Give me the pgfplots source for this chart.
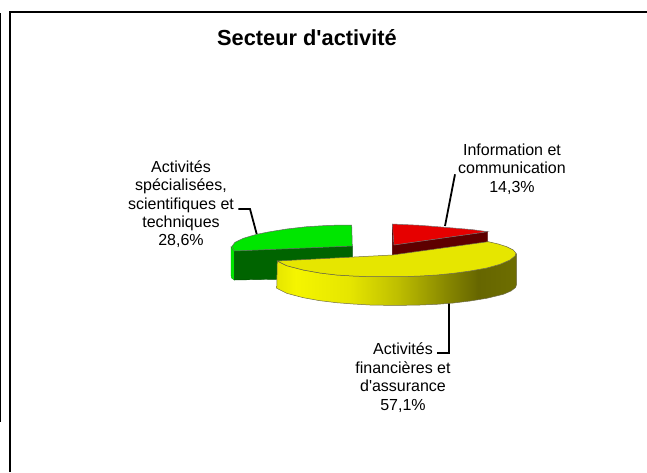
\documentclass[border=0pt]{standalone}
\usepackage{pgfplots}
\usepackage{fontspec}
\setmainfont{Liberation Sans}[Ligatures=TeXOff]
\pgfplotsset{compat=1.18}
\definecolor{redtop}{HTML}{E60000}
\definecolor{redside}{HTML}{5E0000}
\definecolor{greentop}{HTML}{00E600}
\definecolor{greenside}{HTML}{006400}
\definecolor{yellowtop}{HTML}{E6E600}
% side of the yellow slice, the useful range of the shading is 25bp to 75bp
\pgfdeclarehorizontalshading{yellowside}{100bp}{
  color(0bp)=(yellowtop); color(25bp)=(yellowtop);
  color(29bp)=(yellow!96!black); color(40bp)=(yellowtop);
  color(50bp)=(yellow!75!black); color(60bp)=(yellow!54!black);
  color(67bp)=(yellow!40!black); color(75bp)=(yellow!43!black);
  color(100bp)=(yellow!43!black)}
\newcommand{\lbl}{\fontsize{16}{18.4}\selectfont}
\begin{document}
\begin{tikzpicture}
\path[use as bounding box] (0,0) rectangle (647pt,472pt);
\begin{axis}[
  at={(0,0)}, anchor=south west,
  scale only axis, width=647pt, height=472pt,
  xmin=0, xmax=647, ymin=0, ymax=472, y dir=reverse,
  axis lines=none, ticks=none,
]
% frame
\addplot[black, line width=2pt] coordinates {(10,472)(10,12)(647,12)};
\addplot[black, line width=1pt] coordinates {(0.5,13)(0.5,422)};
% leader lines
\addplot[black, line width=1.8pt] coordinates {(455,174.3)(445,226)};
\addplot[black, line width=1.8pt] coordinates {(238.3,209)(250,209)(256.7,234)};
\addplot[black, line width=1.8pt] coordinates {(437.3,353.3)(449.3,353.3)(449.3,303)};
% red slice
\addplot[fill=redside, draw=redside!80!black, line width=0.4pt] coordinates {
  (392.3,224)(394,245)(487.7,231.7)(487.7,242)(394,256)(392.3,256)
} --cycle;
\addplot[fill=redtop, draw=black!55, line width=0.5pt] coordinates {
  (392.3,224)(420,225.3)(453.3,228)(472,229.6)(487.7,231.7)(394,245)
} --cycle;
% green slice
\addplot[fill=greentop, draw=greentop!70!black, line width=0.4pt] coordinates {
  (231,246.7)(234.3,251)(234.3,280)(231.6,278)(231,275)
} --cycle;
\addplot[fill=greenside, draw=greenside!80!black, line width=0.4pt] coordinates {
  (234.3,251)(352.3,246)(352.7,278)(234.3,280)
} --cycle;
\addplot[fill=greentop, draw=black!60, line width=0.5pt] coordinates {
  (351.7,225)(330,225.3)(306.7,226.7)(286.7,229)(270,231.7)(256.7,234.3)
  (243.3,238.3)(235,242.3)(231.7,246.7)(234.3,251)(352.3,246)
} --cycle;
% yellow slice
\addplot[shading=yellowside, draw=yellow!35!black, line width=0.5pt] coordinates {
  (277.3,261)(276.7,288.3)(286.7,293.3)(303.3,297.7)(320,300.7)(336.7,302.7)
  (353.3,304)(370,305)(386.7,305.3)(403.3,305.3)(420,305)(436.7,304.3)
  (453.3,303)(470,301)(486.7,298.3)(503.3,294.3)(511,291)(515.5,287.5)(516.7,284)
  (516.7,255)(516,253.3)(510,260)(500,264.3)(486.7,268)(470,271)(453.3,273.3)
  (436.7,275)(420,276)(403.3,276.7)(386.7,276.7)(370,276.7)(353.3,276)
  (336.7,275)(320,273)(303.3,270)(286.7,265.7)
} --cycle;
\addplot[fill=yellowtop, draw=yellow!35!black, line width=0.5pt] coordinates {
  (277.3,261)(286.7,265.7)(303.3,270)(320,273)(336.7,275)(353.3,276)(370,276.7)
  (386.7,276.7)(403.3,276.7)(420,276)(436.7,275)(453.3,273.3)(470,271)
  (486.7,268)(500,264.3)(510,260)(515,256)(516,253.3)(513.3,250)(506.7,246.7)
  (498.3,244)(488.3,241.7)(392.3,255)
} --cycle;
% texts
\node[font=\bfseries\fontsize{21.8}{24}\selectfont, anchor=base, inner sep=0pt]
  at (axis cs:307,45.5) {Secteur d'activité};
\node[font=\lbl, align=center, inner sep=0pt] at (axis cs:181,204.3)
  {Activités\\spécialisées,\\scientifiques et\\techniques\\28,6\%};
\node[font=\lbl, align=center, inner sep=0pt] at (axis cs:512,169)
  {Information et\\communication\\14,3\%};
\node[font=\lbl, align=center, inner sep=0pt] at (axis cs:403,377.6)
  {Activités\\financières et\\d'assurance\\57,1\%};
\end{axis}
\end{tikzpicture}
\end{document}
